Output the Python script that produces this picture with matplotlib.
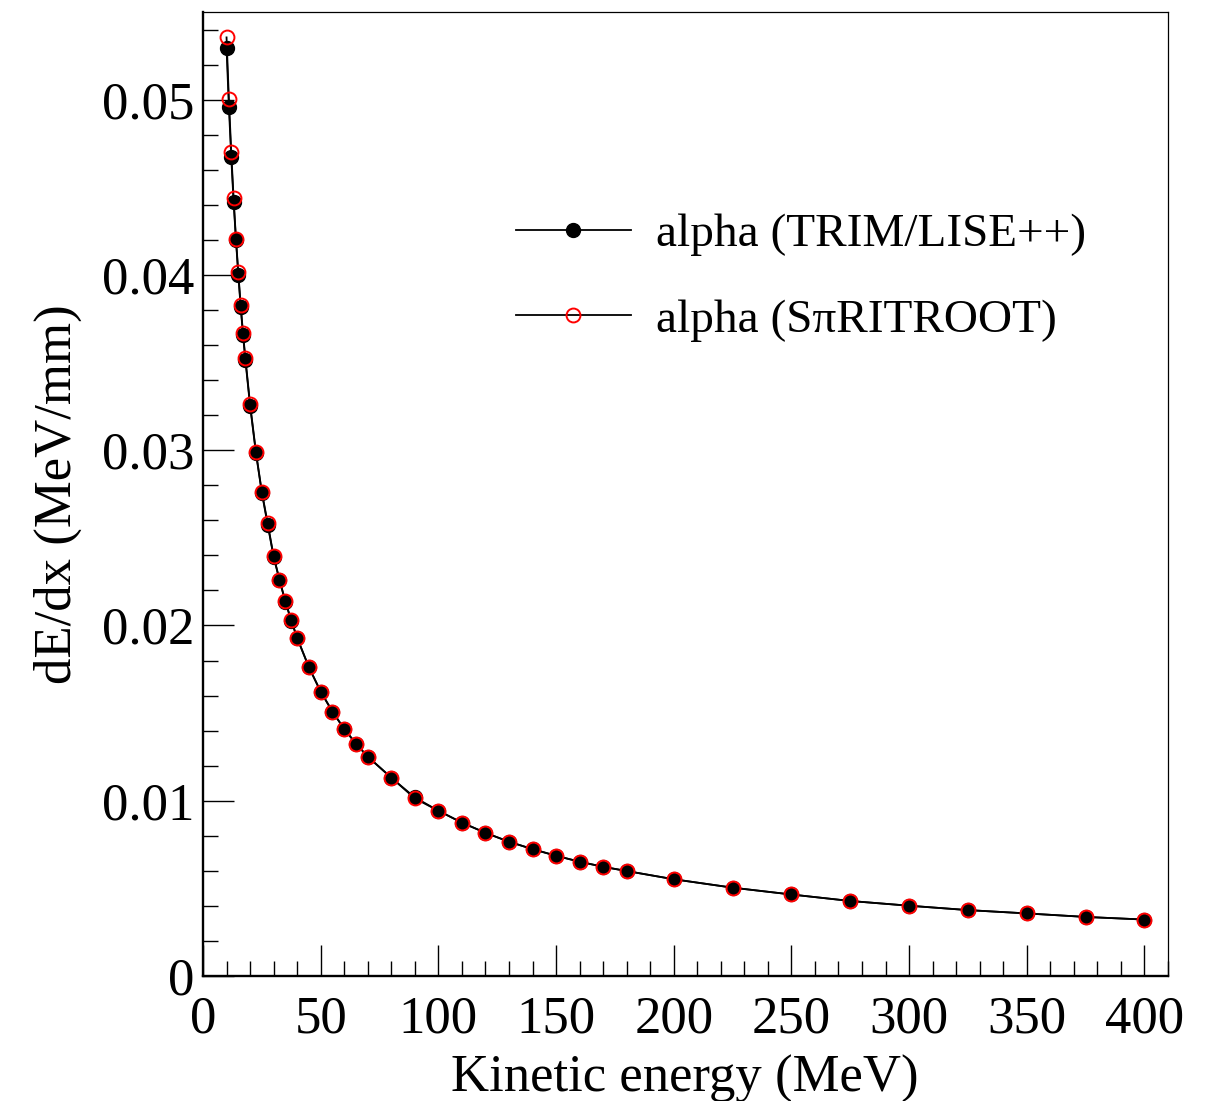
import matplotlib
matplotlib.use("Agg")
import matplotlib.pyplot as plt
from matplotlib.ticker import MultipleLocator, FixedFormatter, FixedLocator

# Alpha-particle stopping power versus kinetic energy
energy_mev = [10, 11, 12, 13, 14, 15, 16, 17, 18, 20, 22.5, 25, 27.5, 30,
              32.5, 35, 37.5, 40, 45, 50, 55, 60, 65, 70, 80, 90, 100, 110,
              120, 130, 140, 150, 160, 170, 180, 200, 225, 250, 275, 300,
              325, 350, 375, 400]

dedx_trim = [0.05292, 0.04959, 0.04670, 0.04417, 0.04199, 0.03999, 0.03818,
             0.03657, 0.03514, 0.03254, 0.02982, 0.02757, 0.02573, 0.02392,
             0.02259, 0.02135, 0.02027, 0.01928, 0.01761, 0.01622, 0.01508,
             0.01409, 0.01325, 0.01251, 0.01131, 0.01019, 0.00943, 0.00875,
             0.00817, 0.00766, 0.00724, 0.00686, 0.00652, 0.00623, 0.00599,
             0.00552, 0.00504, 0.00465, 0.00428, 0.00401, 0.00376, 0.00357,
             0.00337, 0.00322]

dedx_spirit = [0.05355, 0.05001, 0.04702, 0.04436, 0.04207, 0.04014, 0.03828,
               0.03668, 0.03525, 0.03263, 0.02989, 0.02761, 0.02582, 0.02395,
               0.02261, 0.02137, 0.02029, 0.01930, 0.01762, 0.01623, 0.01509,
               0.01410, 0.01326, 0.01252, 0.01132, 0.01013, 0.00943, 0.00875,
               0.00817, 0.00766, 0.00724, 0.00686, 0.00652, 0.00623, 0.00599,
               0.00552, 0.00504, 0.00465, 0.00428, 0.00401, 0.00376, 0.00357,
               0.00337, 0.00322]

label_trim = "alpha (TRIM/LISE++)"
label_spirit = "alpha (SπRITROOT)"
x_title = "Kinetic energy (MeV)"
y_title = "dE/dx (MeV/mm)"
x_ticks = [0, 50, 100, 150, 200, 250, 300, 350, 400]
y_ticks = [0, 0.01, 0.02, 0.03, 0.04, 0.05]
y_tick_labels = ["0", "0.01", "0.02", "0.03", "0.04", "0.05"]

plt.rcParams["font.family"] = ["Liberation Serif", "DejaVu Serif"]

W, H = 1205, 1101
fig = plt.figure(figsize=(W / 100, H / 100), dpi=100)
ax = fig.add_axes([203 / W, 1 - 976 / H, (1168 - 203) / W, (976 - 12) / H])

ax.plot(energy_mev, dedx_trim, color="black", lw=1.3, marker="o",
        ms=10.0, mfc="black", mec="black", label=label_trim, zorder=3)
ax.plot(energy_mev, dedx_spirit, color="black", lw=1.3, marker="o",
        ms=10.0, mfc="none", mec="red", mew=1.4, label=label_spirit, zorder=4)

ax.set_xlim(0, 410)
ax.set_ylim(0, 0.055)

ax.xaxis.set_major_locator(FixedLocator(x_ticks))
ax.xaxis.set_minor_locator(MultipleLocator(10))
ax.yaxis.set_major_locator(FixedLocator(y_ticks))
ax.yaxis.set_major_formatter(FixedFormatter(y_tick_labels))
ax.yaxis.set_minor_locator(MultipleLocator(0.002))

ax.tick_params(which="both", direction="in", top=False, right=False,
               labelsize=38, width=1.0, color="black")
ax.tick_params(which="major", length=22)
ax.tick_params(which="minor", length=11)
ax.tick_params(axis="x", which="major", pad=14)
ax.tick_params(axis="y", which="major", pad=6)

for side in ("left", "bottom"):
    ax.spines[side].set_linewidth(1.7)
for side in ("top", "right"):
    ax.spines[side].set_linewidth(0.9)

fig.text(685 / W, 1 - 1092 / H, x_title, fontsize=38, ha="center",
         va="baseline")
fig.text(71 / W, 1 - 494 / H, y_title, fontsize=38, rotation=90,
         rotation_mode="anchor", ha="center", va="baseline")

leg = ax.legend(loc="upper left", bbox_to_anchor=(516 / W, 1 - 213 / H),
                bbox_transform=fig.transFigure, frameon=False, fontsize=34,
                handlelength=2.43, handletextpad=0.54, labelspacing=0.9,
                borderaxespad=0, borderpad=0)

fig.savefig("out.png", dpi=100)
